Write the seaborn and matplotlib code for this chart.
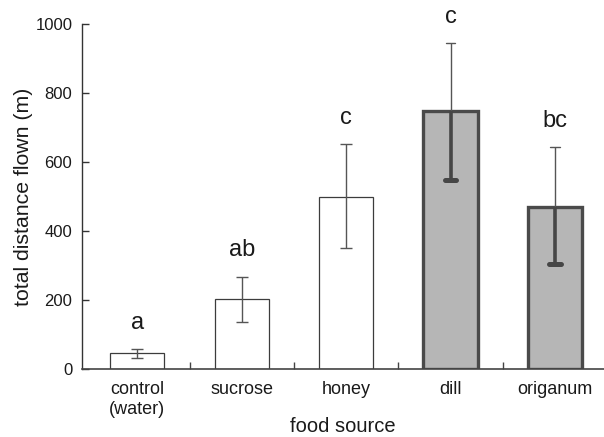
import matplotlib
matplotlib.use("Agg")
import matplotlib.pyplot as plt
from matplotlib.ticker import FixedLocator
import seaborn as sns
import pandas as pd

# Mean total distance flown per food source, with error bar extents
foods = ["control\n(water)", "sucrose", "honey", "dill", "origanum"]
mean_distance = [45, 202, 498, 747, 471]
err_low = [13, 67, 148, 199, 167]
err_high = [13, 66, 154, 198, 173]
letters = ["a", "ab", "c", "c", "bc"]
is_plant = [False, False, False, True, True]
y_ticks = [0, 200, 400, 600, 800, 1000]

sns.set_theme(style="ticks")
plt.rcParams["font.family"] = ["Liberation Sans", "DejaVu Sans"]

W, H = 604, 437
fig = plt.figure(figsize=(W / 100, H / 100), dpi=100)
fig.patch.set_facecolor("white")
ax = fig.add_axes([82 / W, 1 - 369 / H, 1 - 82 / W, (369 - 24) / H])

df = pd.DataFrame({"food": foods, "distance": mean_distance})
sns.barplot(data=df, x="food", y="distance", order=foods, color="white",
            width=0.52, errorbar=None, ax=ax, zorder=2)

plant_fill = "#b6b6b6"
plant_edge = "#4a4a4a"
plain_edge = "#3c3c3c"
err_color = "#555555"

for patch, m, lo, hi, lab, plant in zip(ax.patches, mean_distance, err_low,
                                        err_high, letters, is_plant):
    x = patch.get_x() + patch.get_width() / 2
    if plant:
        patch.set_facecolor(plant_fill)
        patch.set_edgecolor(plant_edge)
        patch.set_linewidth(2.4)
        # thin upper whisker above the bar
        ax.errorbar([x], [m], yerr=[[0], [hi]], fmt="none", ecolor=err_color,
                    elinewidth=1.0, capsize=0, zorder=3)
        ax.plot([x - 0.045, x + 0.045], [m + hi] * 2, color=err_color,
                lw=1.0, zorder=3)
        # heavy lower whisker inside the bar
        ax.plot([x, x], [m - lo, m], color="#464646", lw=2.6,
                solid_capstyle="butt", zorder=3)
        ax.plot([x - 0.055, x + 0.055], [m - lo] * 2, color="#464646",
                lw=3.6, solid_capstyle="round", zorder=3)
    else:
        patch.set_facecolor("white")
        patch.set_edgecolor(plain_edge)
        patch.set_linewidth(0.9)
        ax.errorbar([x], [m], yerr=[[lo], [hi]], fmt="none", ecolor=err_color,
                    elinewidth=1.0, capsize=4, capthick=1.0, zorder=3)
    ax.annotate(lab, xy=(x, m + hi), xytext=(0, 14.5), textcoords="offset points",
                ha="center", va="baseline", fontsize=17, color="#1a1a1a")

ax.set_ylim(0, 1000)
ax.set_xlim(-0.53, 4.47)
ax.set_yticks(y_ticks)
ax.tick_params(axis="y", direction="in", length=5, width=1.0, color="#333333",
               labelsize=12, pad=7, labelcolor="#1a1a1a")
ax.tick_params(axis="x", which="major", length=0, labelsize=13, pad=9,
               labelcolor="#1a1a1a")
ax.xaxis.set_minor_locator(FixedLocator([0.5, 1.5, 2.5, 3.5]))
ax.tick_params(axis="x", which="minor", direction="in", length=5, width=1.0,
               color="#444444")

for side in ("top", "right"):
    ax.spines[side].set_visible(False)
ax.spines["left"].set_color("#333333")
ax.spines["left"].set_linewidth(1.0)
ax.spines["bottom"].set_color("#444444")
ax.spines["bottom"].set_linewidth(1.2)

ax.set_ylabel("total distance flown (m)", fontsize=15.3, color="#1a1a1a", labelpad=1.5)
ax.set_xlabel("food source", fontsize=14.5, color="#1a1a1a")
ax.xaxis.set_label_coords(0.5, -0.138)
ax.set_facecolor("white")

fig.savefig("out.png", dpi=100, facecolor="white")
